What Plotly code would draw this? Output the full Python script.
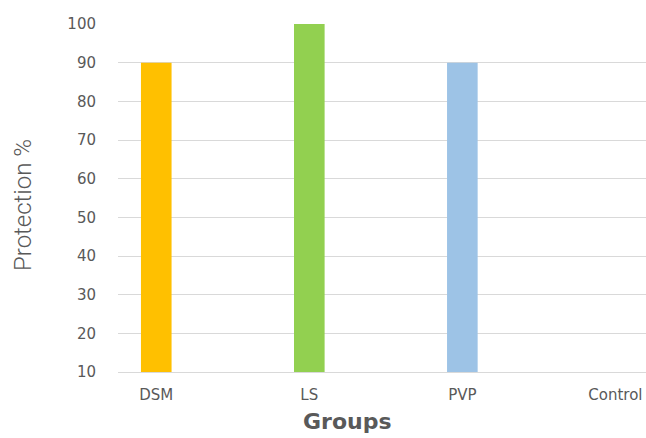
import plotly.graph_objects as go

groups = ["DSM", "LS", "PVP", "Control"]
protection = [90, 100, 90, 0]
colors = ["#FFC000", "#92D050", "#9DC3E6", "#A5A5A5"]
y_ticks = [10, 20, 30, 40, 50, 60, 70, 80, 90, 100]

W, H = 646, 438
left, right, top, bottom = 118, 0, 23.5, 438 - 372.5
plot_w = W - left - right
plot_h = H - top - bottom

fig = go.Figure(go.Bar(
    x=groups, y=protection, marker_color=colors, width=0.2,
    marker_line_width=0,
))

fig.update_layout(
    width=W, height=H,
    margin=dict(l=left, r=right, t=top, b=bottom, pad=0),
    paper_bgcolor="white", plot_bgcolor="white",
    showlegend=False,
    font=dict(family="DejaVu Sans", color="#595959"),
)
fig.update_xaxes(
    type="category", range=[-0.25, 3.2],
    showgrid=False, showline=True, linecolor="#D9D9D9", linewidth=1,
    ticks="", tickfont=dict(size=15, color="#595959"),
    ticklabelstandoff=9,
)
fig.update_yaxes(
    range=[10, 100], tickvals=y_ticks,
    showgrid=True, gridcolor="#D9D9D9", gridwidth=1,
    zeroline=False, showline=False, ticks="",
    tickfont=dict(size=15, color="#595959"),
    ticklabelstandoff=21,
)

# axis titles placed as annotations (pixel positions converted to paper coords)
fig.add_annotation(
    text="<b>Groups</b>", xref="paper", yref="paper",
    x=(347 - left) / plot_w, y=-(437 - (top + plot_h)) / plot_h,
    xanchor="center", yanchor="bottom", showarrow=False,
    font=dict(family="DejaVu Sans", size=22, color="#595959"),
)
fig.add_annotation(
    text="Protection %", xref="paper", yref="paper",
    x=(23 - left) / plot_w, y=(top + plot_h - 205) / plot_h,
    xanchor="center", yanchor="middle", showarrow=False, textangle=-90,
    font=dict(family="Roboto", weight=300, size=24, color="#595959"),
)

fig.write_html("out.html")
